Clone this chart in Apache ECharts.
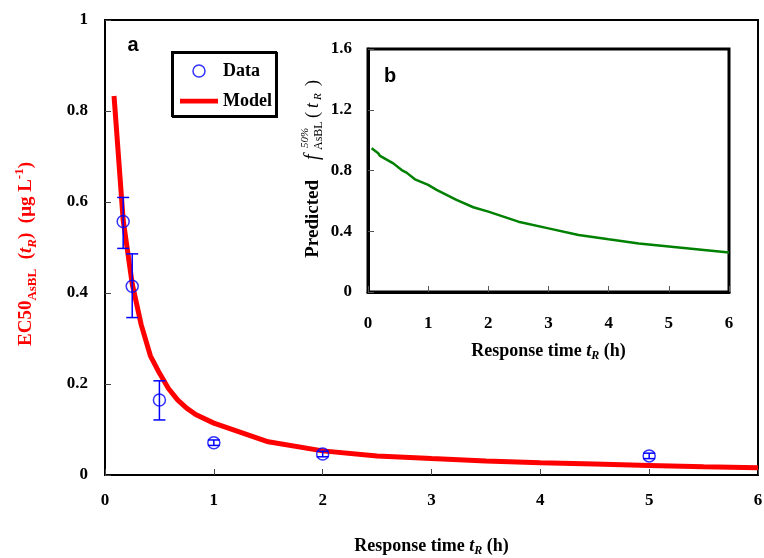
<!DOCTYPE html>
<html>
<head>
<meta charset="utf-8">
<script src="https://cdn.jsdelivr.net/npm/echarts@6/dist/echarts.min.js"></script>
<style>
  html, body { margin: 0; padding: 0; background: #fff; }
  #main { width: 764px; height: 558px; }
</style>
</head>
<body>
<div id="main"></div>
<script>
// panel a: measured EC50 with error bars
var dataT = [0.167, 0.25, 0.5, 1, 2, 5];
var dataEC = [0.557, 0.415, 0.165, 0.071, 0.046, 0.042];
var errLow = [0.498, 0.346, 0.121, 0.065, 0.040, 0.036];
var errHigh = [0.610, 0.486, 0.207, 0.077, 0.052, 0.048];

// panel a: model curve
var modelT = [0.083, 0.167, 0.25, 0.333, 0.417, 0.5, 0.583, 0.667, 0.75, 0.833, 1, 1.5, 2, 2.5, 3, 3.5, 4, 4.5, 5, 5.5, 6];
var modelEC = [0.833, 0.56, 0.42, 0.33, 0.262, 0.224, 0.19, 0.165, 0.147, 0.133, 0.114, 0.073, 0.053, 0.042, 0.036, 0.031, 0.027, 0.024, 0.021, 0.018, 0.016];

// panel b: predicted fraction
var fracT = [0.06, 0.17, 0.2, 0.42, 0.56, 0.64, 0.78, 1, 1.14, 1.47, 1.75, 2, 2.5, 3, 3.5, 4, 4.5, 5, 5.5, 6];
var fracV = [0.946, 0.913, 0.896, 0.847, 0.803, 0.786, 0.742, 0.705, 0.672, 0.606, 0.558, 0.529, 0.463, 0.419, 0.375, 0.347, 0.32, 0.30, 0.28, 0.26];

var serif = "'Liberation Serif', 'Times New Roman', serif";
var sans = "'Liberation Sans', Arial, sans-serif";

function pairs(xs, ys) {
  var out = [];
  for (var i = 0; i < xs.length; i++) out.push([xs[i], ys[i]]);
  return out;
}
var errData = [];
for (var i = 0; i < dataT.length; i++) errData.push([dataT[i], errLow[i], errHigh[i]]);

function renderErr(params, api) {
  var lo = api.coord([api.value(0), api.value(1)]);
  var hi = api.coord([api.value(0), api.value(2)]);
  var w = 6;
  var st = { stroke: '#0000ff', lineWidth: 1.5, fill: null };
  return {
    type: 'group',
    children: [
      { type: 'line', shape: { x1: lo[0], y1: lo[1], x2: hi[0], y2: hi[1] }, style: st },
      { type: 'line', shape: { x1: lo[0] - w, y1: lo[1], x2: lo[0] + w, y2: lo[1] }, style: st },
      { type: 'line', shape: { x1: hi[0] - w, y1: hi[1], x2: hi[0] + w, y2: hi[1] }, style: st }
    ]
  };
}

var tickLabel = { fontFamily: serif, fontWeight: 'bold', fontSize: 17, color: '#000' };
var nameRich = {
  b: { fontFamily: serif, fontWeight: 'bold', fontSize: 18, color: '#000', lineHeight: 22 },
  i: { fontFamily: serif, fontWeight: 'bold', fontStyle: 'italic', fontSize: 18, color: '#000', lineHeight: 22 },
  s: { fontFamily: serif, fontWeight: 'bold', fontStyle: 'italic', fontSize: 12, color: '#000', lineHeight: 14, verticalAlign: 'bottom' }
};
var red = '#ff0000';

var myChart = echarts.init(document.getElementById('main'));
myChart.setOption({
  animation: false,
  backgroundColor: '#fff',
  grid: [
    { left: 105, top: 20, right: 6, bottom: 83, outerBoundsMode: 'none', show: true, borderColor: '#000', borderWidth: 2, backgroundColor: 'transparent' },
    { left: 368, top: 49, width: 361, height: 243, outerBoundsMode: 'none', show: true, borderColor: '#000', borderWidth: 3, backgroundColor: 'transparent' }
  ],
  legend: {
    data: [
      { name: 'Data', icon: 'circle', itemStyle: { color: 'rgba(0,0,0,0)', borderColor: '#0000ff', borderWidth: 1.5 } },
      { name: 'Model', icon: 'path://M0,0H40V5H0Z', itemStyle: { color: red } }
    ],
    orient: 'vertical',
    left: 172,
    top: 52,
    padding: [8, 4, 4, 8],
    itemGap: 8,
    itemWidth: 38,
    itemHeight: 12,
    borderColor: '#000',
    borderWidth: 2,
    backgroundColor: '#fff',
    shadowColor: '#000',
    shadowOffsetX: 1,
    shadowOffsetY: 1,
    shadowBlur: 0,
    textStyle: { fontFamily: serif, fontWeight: 'bold', fontSize: 18, color: '#000', lineHeight: 22 }
  },
  xAxis: [
    {
      type: 'value', gridIndex: 0, min: 0, max: 6, interval: 1,
      name: '{b|Response time }{i|t}{s|R}{b| (h)}',
      nameLocation: 'middle', nameGap: 60,
      nameTextStyle: { rich: nameRich },
      axisLine: { show: true, lineStyle: { color: '#000', width: 2 } },
      axisTick: { show: true, inside: true, length: 6, lineStyle: { color: '#444', width: 1 } },
      axisLabel: Object.assign({ margin: 17 }, tickLabel),
      splitLine: { show: false }
    },
    {
      type: 'value', gridIndex: 1, min: 0, max: 6, interval: 1,
      name: '{b|Response time }{i|t}{s|R}{b| (h)}',
      nameLocation: 'middle', nameGap: 48,
      nameTextStyle: { rich: nameRich },
      axisLine: { show: true, lineStyle: { color: '#000', width: 3 } },
      axisTick: { show: true, inside: true, length: 6, lineStyle: { color: '#555', width: 1 } },
      axisLabel: Object.assign({ margin: 23 }, tickLabel),
      splitLine: { show: false }
    }
  ],
  yAxis: [
    {
      type: 'value', gridIndex: 0, min: 0, max: 1, interval: 0.2,
      axisLine: { show: true, lineStyle: { color: '#000', width: 2 } },
      axisTick: { show: true, inside: true, length: 6, lineStyle: { color: '#444', width: 1 } },
      axisLabel: Object.assign({ margin: 17 }, tickLabel),
      splitLine: { show: false }
    },
    {
      type: 'value', gridIndex: 1, min: 0, max: 1.6, interval: 0.4,
      axisLine: { show: true, lineStyle: { color: '#000', width: 3 } },
      axisTick: { show: true, inside: true, length: 6, lineStyle: { color: '#555', width: 1 } },
      axisLabel: Object.assign({ margin: 16 }, tickLabel),
      splitLine: { show: false }
    }
  ],
  graphic: [
    { type: 'text', x: 133, y: 45, style: { text: 'a', font: 'bold 20px ' + sans, fill: '#000', align: 'center', verticalAlign: 'middle' } },
    { type: 'text', x: 390, y: 76, style: { text: 'b', font: 'bold 20px ' + sans, fill: '#000', align: 'center', verticalAlign: 'middle' } },
    {
      type: 'text', x: 26, y: 254, rotation: Math.PI / 2,
      style: {
        text: '{m|EC50}{s|AsBL}{m|  (}{i|t}{is|R}{m|)  (μg L}{sup|-1}{m|)}',
        align: 'center', verticalAlign: 'middle',
        rich: {
          m: { fontFamily: serif, fontWeight: 'bold', fontSize: 19, fill: red, lineHeight: 26 },
          s: { fontFamily: serif, fontWeight: 'bold', fontSize: 13, fill: red, lineHeight: 15, verticalAlign: 'bottom' },
          i: { fontFamily: serif, fontWeight: 'bold', fontStyle: 'italic', fontSize: 19, fill: red, lineHeight: 26 },
          is: { fontFamily: serif, fontWeight: 'bold', fontStyle: 'italic', fontSize: 13, fill: red, lineHeight: 15, verticalAlign: 'bottom' },
          sup: { fontFamily: serif, fontWeight: 'bold', fontSize: 13, fill: red, lineHeight: 15, verticalAlign: 'top' }
        }
      }
    },
    {
      type: 'group', x: 313, y: 172, rotation: Math.PI / 2,
      children: [
        { type: 'text', x: -8, y: 0, style: { text: 'Predicted', font: 'bold 19px ' + serif, fill: '#000', align: 'right', verticalAlign: 'middle' } },
        { type: 'text', x: 12, y: 0, style: { text: 'f', font: 'italic 20px ' + serif, fill: '#000', align: 'left', verticalAlign: 'middle' } },
        { type: 'text', x: 24, y: -8, style: { text: '50%', font: 'italic 11px ' + serif, fill: '#000', align: 'left', verticalAlign: 'middle' } },
        { type: 'text', x: 22, y: 6, style: { text: 'AsBL', font: '12px ' + serif, fill: '#000', align: 'left', verticalAlign: 'middle' } },
        { type: 'text', x: 54, y: 0, style: { text: '(', font: '18px ' + serif, fill: '#000', align: 'left', verticalAlign: 'middle' } },
        { type: 'text', x: 64, y: 0, style: { text: 't', font: 'italic 18px ' + serif, fill: '#000', align: 'left', verticalAlign: 'middle' } },
        { type: 'text', x: 72, y: 5, style: { text: 'R', font: 'italic 11px ' + serif, fill: '#000', align: 'left', verticalAlign: 'middle' } },
        { type: 'text', x: 86, y: 0, style: { text: ')', font: '18px ' + serif, fill: '#000', align: 'left', verticalAlign: 'middle' } }
      ]
    }
  ],
  series: [
    {
      name: 'Model', type: 'line', xAxisIndex: 0, yAxisIndex: 0,
      data: pairs(modelT, modelEC),
      symbol: 'none', smooth: false,
      lineStyle: { color: red, width: 5 },
      itemStyle: { color: red },
      z: 2
    },
    {
      name: 'Data error', type: 'custom', xAxisIndex: 0, yAxisIndex: 0,
      data: errData, renderItem: renderErr,
      encode: { x: 0, y: [1, 2] },
      z: 3
    },
    {
      name: 'Data', type: 'scatter', xAxisIndex: 0, yAxisIndex: 0,
      data: pairs(dataT, dataEC),
      symbol: 'circle', symbolSize: 12,
      itemStyle: { color: 'rgba(0,0,0,0)', borderColor: '#0000ff', borderWidth: 1.5 },
      z: 4
    },
    {
      name: 'Predicted', type: 'line', xAxisIndex: 1, yAxisIndex: 1,
      data: pairs(fracT, fracV),
      symbol: 'none', smooth: false,
      lineStyle: { color: '#008000', width: 2.5 },
      z: 2
    }
  ]
});
</script>
</body>
</html>
